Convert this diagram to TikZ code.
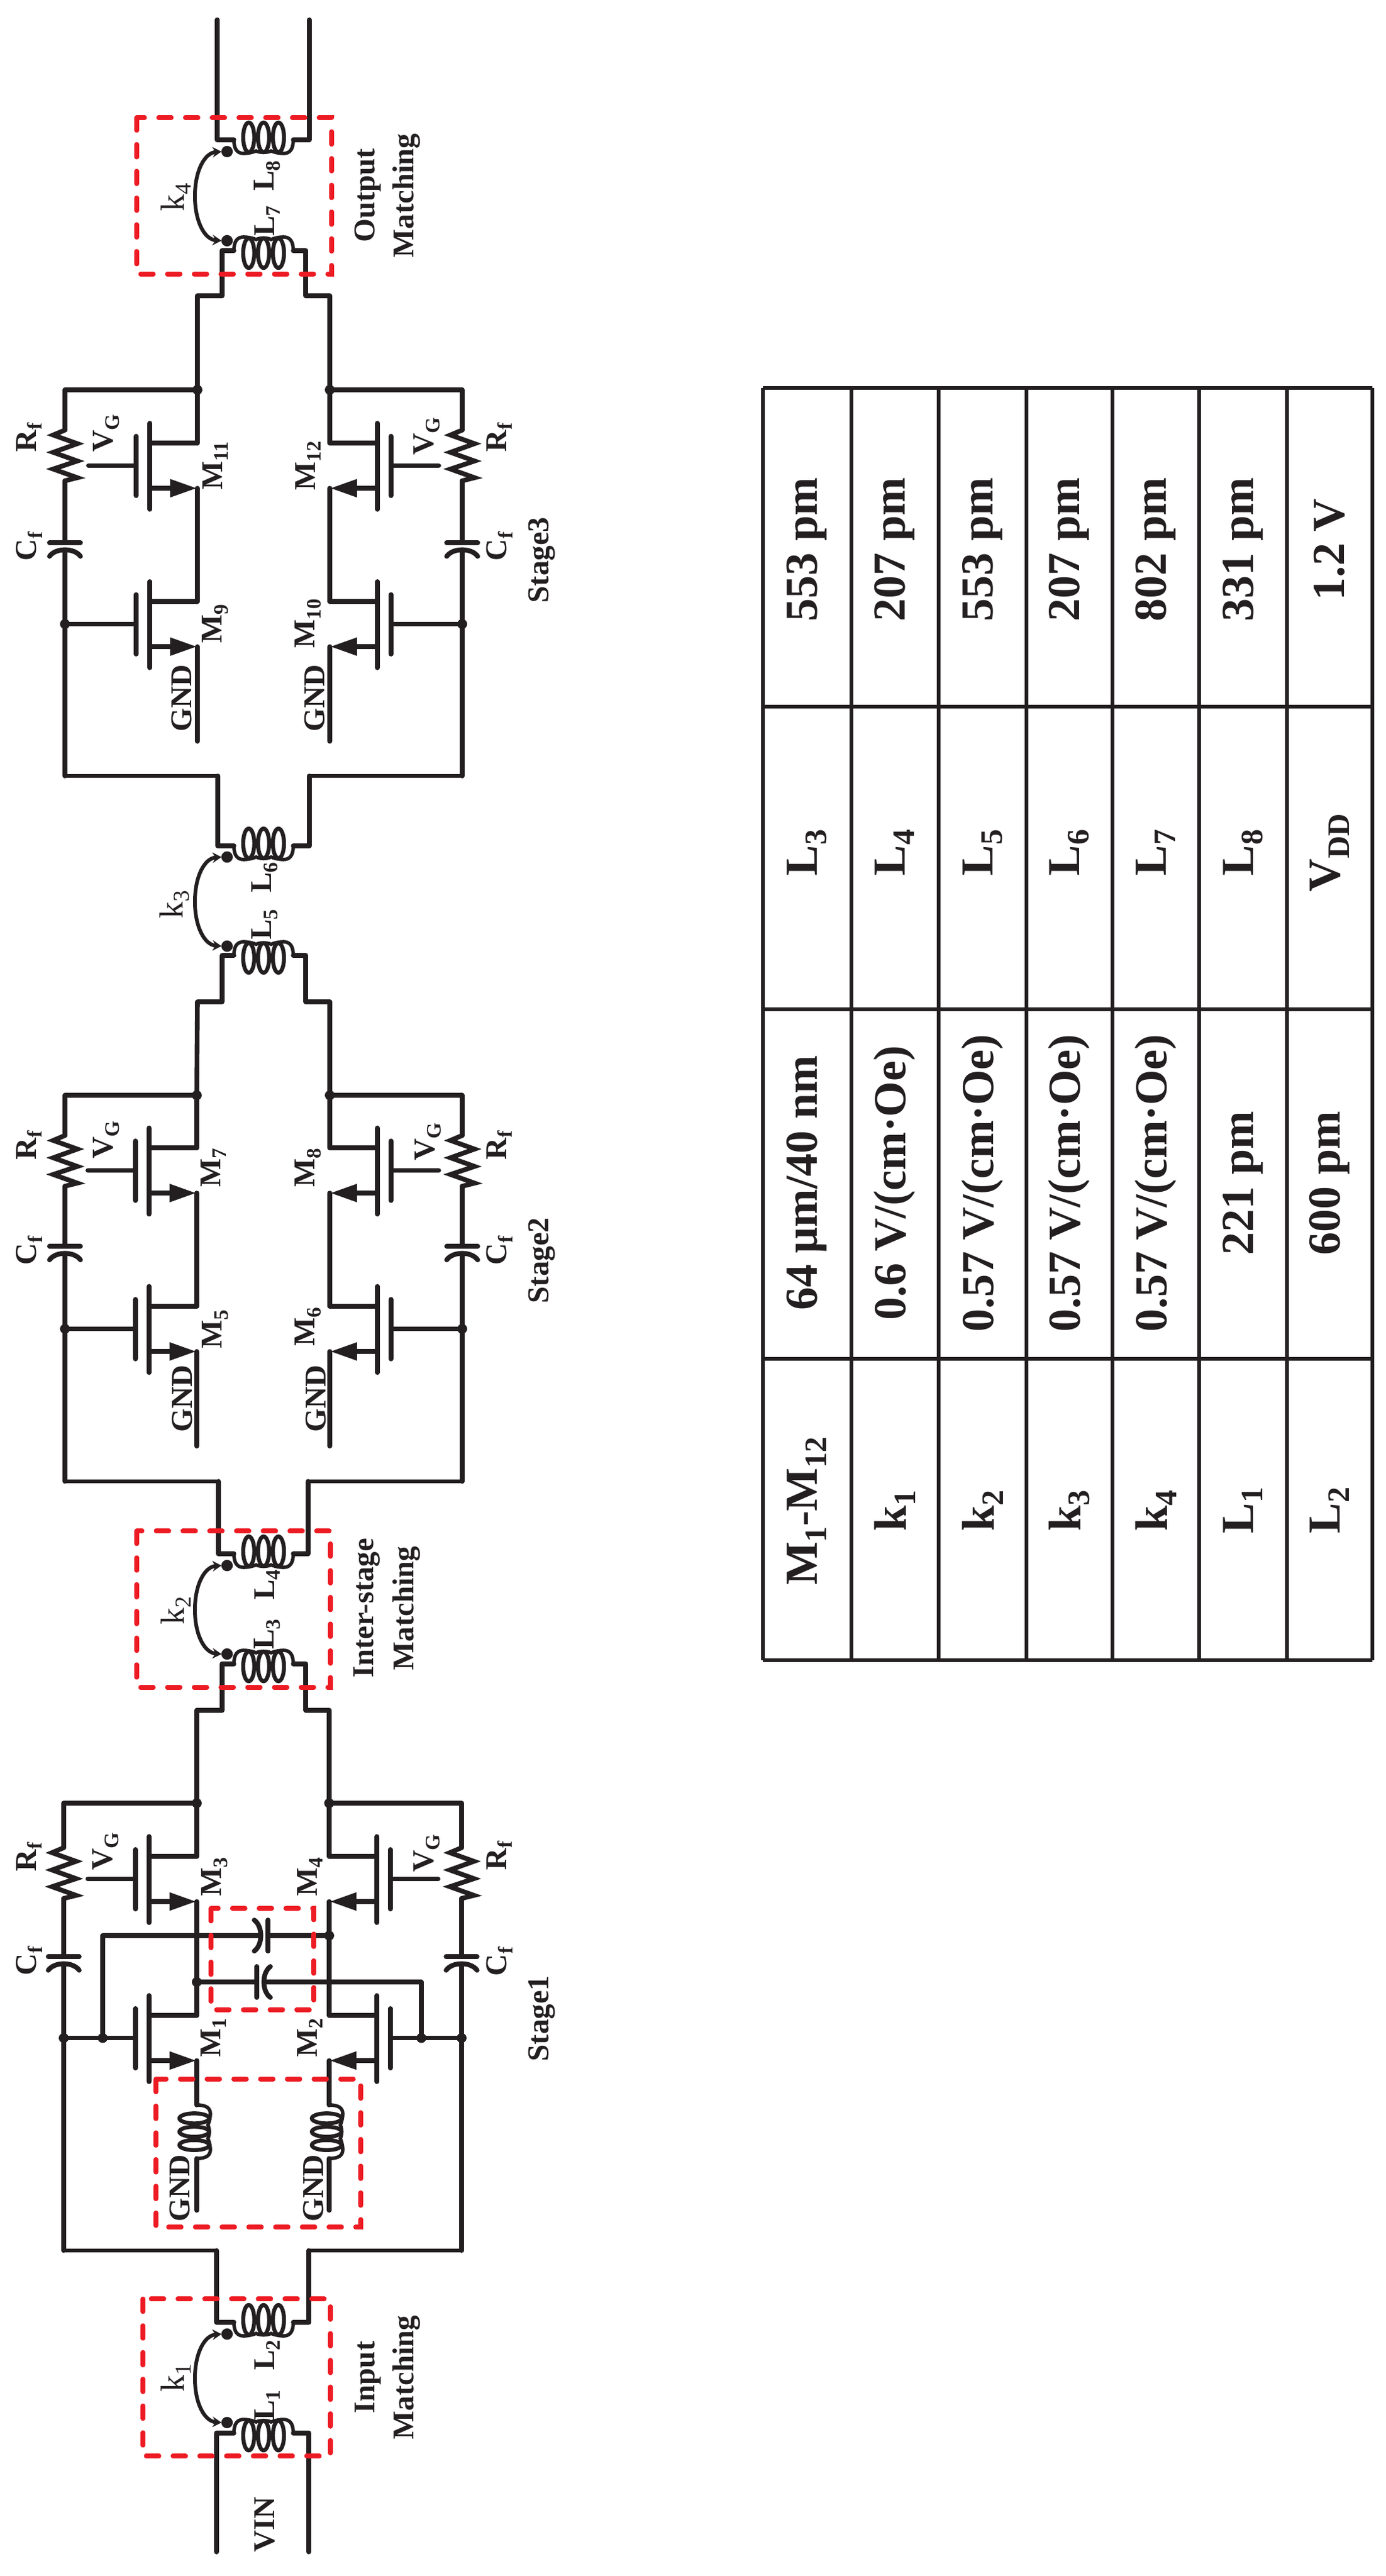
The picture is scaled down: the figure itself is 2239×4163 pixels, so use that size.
\documentclass[tikz,border=0pt]{standalone}
\usepackage{fontspec}
\setmainfont{Liberation Serif}
\usetikzlibrary{arrows.meta}
\definecolor{ink}{HTML}{231F20}
\definecolor{redbox}{HTML}{ED1C24}
\newcommand\sbs[1]{\raisebox{-0.2em}{\scalebox{0.68}{#1}}}
\tikzset{
  rail/.style={line width=1.9pt,color=ink,line join=round,line cap=round},
  thinrail/.style={line width=1.6pt,color=ink,line join=miter,line cap=round},
  plate/.style={line width=1.95pt,color=ink,line cap=round},
  coilw/.style={line width=1.4pt,color=ink},
  couplew/.style={line width=1.5pt,color=ink,{Stealth[length=3.6pt,width=4.2pt]}-{Stealth[length=3.6pt,width=4.2pt]}},
  junct/.style={circle,fill=ink,draw=none,inner sep=0pt,minimum size=4pt},
  pdot/.style={circle,fill=ink,draw=none,inner sep=0pt,minimum size=4.6pt},
  redrect/.style={draw=redbox,line width=1.8pt,line cap=round,dash pattern=on 5.2pt off 5.6pt},
  lab/.style={rotate=90,inner sep=0pt,text=ink,font=\fontsize{12.2}{14}\selectfont\bfseries},
  labk/.style={rotate=90,inner sep=0pt,text=ink,font=\fontsize{13.5}{15}\selectfont},
  tab/.style={rotate=90,inner sep=0pt,text=ink,font=\fontsize{18.5}{22}\selectfont\bfseries},
  tabline/.style={line width=1.5pt,color=ink}
}
% transistor: #1 name, #2 rail x, #3 drain y, #4 x vector
\newcommand\Mos[4]{%
  \begin{scope}[shift={(#2,#3)},x={#4}]
    \coordinate (#1d) at (0,0);
    \coordinate (#1s) at (0,73);
    \coordinate (#1g) at (-99,36.5);
    \coordinate (#1c) at (-77,0);
    \coordinate (#1e) at (-77,73);
    \draw[rail] (#1d) -- (#1c);
    \draw[rail] (#1e) -- (-40,73);
    \draw[plate] (-77,-32) -- (-77,107);
    \draw[plate] (-99,-11) -- (-99,85);
    \fill[ink] (-44,58) -- (-2,73) -- (-44,88) -- cycle;
  \end{scope}}
% zigzag resistor on a vertical rail
\newcommand\Zig[3]{%
  \begin{scope}[shift={(#2,#3)}]
    \coordinate (#1a) at (0,-41);
    \coordinate (#1b) at (0,41);
    \draw[rail,line join=miter] (#1a) -- (-19,-33) -- (20,-19) -- (-19,-5) -- (20,9) -- (-19,22) -- (20,36) -- (#1b);
  \end{scope}}
% capacitor: flat plate at v=0, curved plate on the +v side
\newcommand\CapAt[5]{%
  \begin{scope}[shift={(#2,#3)},x={#4},y={#5}]
    \coordinate (#1a) at (0,0);
    \coordinate (#1b) at (0,11.5);
    \draw[plate] (-25,0) -- (25,0);
    \draw[plate] (-25,22) .. controls (-15,8) and (15,8) .. (25,22);
  \end{scope}}
% inductor, axis along x vector, bump at v=-22
\newcommand\Coil[5]{%
  \begin{scope}[shift={(#2,#3)},x={#4},y={#5}]
    \coordinate (#1a) at (-48,0);
    \coordinate (#1b) at (48,0);
    \draw[coilw] (#1a) .. controls (-48,-16) and (-42,-22) .. (-32,-22)
       .. controls (-27,-22) and (-20,-21) .. (-12,-18)
       .. controls (-6,-21) and (6,-21) .. (12,-18)
       .. controls (20,-21) and (27,-22) .. (32,-22)
       .. controls (42,-22) and (48,-16) .. (#1b);
    \foreach \u in {-24,0,24}
      \draw[line width=1.6pt,color=ink] (\u,4) ellipse [x radius=9,y radius=24];
  \end{scope}}
\newcommand\Couple[3]{%
  \pgfmathsetmacro\ymid{(#2+#3)/2}%
  \pgfmathsetmacro\ya{#2+2}\pgfmathsetmacro\yb{\ymid-40}%
  \pgfmathsetmacro\yc{\ymid+40}\pgfmathsetmacro\yd{#3-2}%
  \node[pdot] (#1u) at (367,#2) {};
  \node[pdot] (#1v) at (367,#3) {};
  \coordinate (#1m) at (315,\ymid);
  \draw[couplew] (358,#2) .. controls (330,\ya) and (315,\yb) .. (#1m) .. controls (315,\yc) and (330,\yd) .. (358,#3);}
% one half of an amplifier stage
% #1 name #2 rail #3 outer #4 row y #5 d1 #6 d2 #7 R centre #8 C y #9 bottom
\newcommand\Side[9]{%
  \pgfmathsetmacro\sgn{(#3<#2)?0.25:-0.25}%
  \pgfmathsetmacro\gy{#6+36.5}%
  \Mos{#1a}{#2}{#5}{(\sgn pt,0)}
  \Mos{#1b}{#2}{#6}{(\sgn pt,0)}
  \coordinate (#1t) at (#2,#4);
  \coordinate (#1r) at (#3,#4);
  \coordinate (#1k) at (#3,\gy);
  \coordinate (#1o) at (#3,#9);
  \Zig{#1z}{#3}{#7}
  \CapAt{#1c}{#3}{#8}{(0.25pt,0)}{(0,-0.25pt)}
  \begin{scope}[shift={(#2,#5)},x={(\sgn pt,0)}]
    \coordinate (#1v) at (-176,36.5);
  \end{scope}
  \draw[rail] (#1t) -- (#1ad);
  \draw[rail] (#1as) -- (#1bd);
  \draw[rail] (#1t) -- (#1r) -- (#1za);
  \draw[rail] (#1zb) -- (#1ca);
  \draw[rail] (#1cb) -- (#1k);
  \draw[rail] (#1k) -- (#1o);
  \draw[rail] (#1ag) -- (#1v);
  \draw[rail] (#1k) -- (#1bg);
  \node[junct] (#1dt) at (#1t) {};
  \node[junct] (#1dk) at (#1k) {};}
\newcommand\Lab[5][lab]{\node[#1] (#2) at (#3,#4) {#5};}
\begin{document}
\begin{tikzpicture}[x=0.25pt,y=-0.25pt]
\useasboundingbox (0,0) rectangle (2239,4163);
\fill[white] (0,0) rectangle (2239,4163);

% ---------- stages
\Side{tl}{319}{105}{630}{716}{972}{736}{877}{1254}
\Side{tr}{533}{747}{630}{716}{972}{736}{877}{1254}
\Side{ml}{318}{105}{1770}{1855}{2111}{1876}{2014}{2394}
\Side{mr}{533}{747}{1770}{1855}{2111}{1876}{2014}{2394}
\Side{bl}{318}{103}{2914}{3000}{3257}{3027}{3162}{3637}
\Side{br}{532}{746}{2914}{3000}{3257}{3027}{3162}{3637}

% ---------- ground leads
\coordinate (g3a) at (319,1198); \coordinate (g3b) at (533,1198);
\coordinate (g2a) at (318,2337); \coordinate (g2b) at (533,2337);
\draw[rail] (tlbs) -- (g3a);
\draw[rail] (trbs) -- (g3b);
\draw[rail] (mlbs) -- (g2a);
\draw[rail] (mrbs) -- (g2b);

% ---------- source inductors of stage 1
\Coil{sa}{318}{3445}{(0,-0.225pt)}{(-0.25pt,0)}
\Coil{sb}{532}{3445}{(0,-0.225pt)}{(-0.25pt,0)}
\coordinate (g1a) at (318,3572); \coordinate (g1b) at (532,3572);
\draw[rail] (blbs) -- (saa);
\draw[rail] (sab) -- (g1a);
\draw[rail] (brbs) -- (sba);
\draw[rail] (sbb) -- (g1b);

% ---------- cross coupling of stage 1
\node[junct] (xa) at (166,3293.5) {};
\node[junct] (xb) at (681,3293.5) {};
\node[junct] (xc) at (532,3128) {};
\node[junct] (xd) at (318,3203) {};
\CapAt{cxa}{433}{3128}{(0,0.25pt)}{(-0.25pt,0)}
\CapAt{cxb}{415}{3203}{(0,0.25pt)}{(0.25pt,0)}
\coordinate (xe) at (166,3128);
\coordinate (xf) at (681,3203);
\draw[rail] (xa.center) -- (xe) -- (cxab);
\draw[rail] (cxaa) -- (xc.center);
\draw[rail] (xd.center) -- (cxba);
\draw[rail] (cxbb) -- (xf) -- (xb.center);

% ---------- output matching
\Coil{lh}{426}{226}{(0.25pt,0)}{(0,0.25pt)}
\Coil{lg}{426}{405}{(0.25pt,0)}{(0,-0.25pt)}
\coordinate (oa) at (351,32); \coordinate (ob) at (500,32);
\coordinate (oc) at (351,226); \coordinate (od) at (500,226);
\draw[rail] (oa) -- (oc) -- (lha);
\draw[rail] (lhb) -- (od) -- (ob);
\coordinate (oe) at (359,405); \coordinate (of) at (359,478); \coordinate (og) at (319,478);
\coordinate (oh) at (494,405); \coordinate (oi) at (494,478); \coordinate (oj) at (533,478);
\draw[rail] (lga) -- (oe) -- (of) -- (og) -- (tlt);
\draw[rail] (lgb) -- (oh) -- (oi) -- (oj) -- (trt);
\Couple{kd}{245}{389}

% ---------- L5 L6
\Coil{lf}{426}{1367}{(0.25pt,0)}{(0,0.25pt)}
\Coil{le}{426}{1544}{(0.25pt,0)}{(0,-0.25pt)}
\coordinate (pa) at (352,1254); \coordinate (pb) at (352,1367);
\coordinate (pc) at (500,1254); \coordinate (pd) at (500,1367);
\draw[thinrail] (tlo) -- (pa);
\draw[rail] (pa) -- (pb) -- (lfa);
\draw[thinrail] (tro) -- (pc);
\draw[rail] (pc) -- (pd) -- (lfb);
\coordinate (pe) at (359,1544); \coordinate (pf) at (359,1619); \coordinate (pg) at (319,1619);
\coordinate (ph) at (494,1544); \coordinate (pi) at (494,1619); \coordinate (pj) at (533,1619);
\draw[rail] (lea) -- (pe) -- (pf) -- (pg) -- (mlt);
\draw[rail] (leb) -- (ph) -- (pi) -- (pj) -- (mrt);
\Couple{kc}{1385}{1529}

% ---------- inter-stage matching
\Coil{ld}{426}{2511}{(0.25pt,0)}{(0,0.25pt)}
\Coil{lc}{426}{2689}{(0.25pt,0)}{(0,-0.25pt)}
\coordinate (qa) at (353,2394); \coordinate (qb) at (353,2511);
\coordinate (qc) at (498,2394); \coordinate (qd) at (498,2511);
\draw[thinrail] (mlo) -- (qa);
\draw[rail] (qa) -- (qb) -- (lda);
\draw[thinrail] (mro) -- (qc);
\draw[rail] (qc) -- (qd) -- (ldb);
\coordinate (qe) at (359,2689); \coordinate (qf) at (359,2764); \coordinate (qg) at (318,2764);
\coordinate (qh) at (494,2689); \coordinate (qi) at (494,2764); \coordinate (qj) at (532,2764);
\draw[rail] (lca) -- (qe) -- (qf) -- (qg) -- (blt);
\draw[rail] (lcb) -- (qh) -- (qi) -- (qj) -- (brt);
\Couple{kb}{2530}{2673}

% ---------- input matching
\Coil{lb}{426}{3753}{(0.25pt,0)}{(0,0.25pt)}
\Coil{la}{426}{3932}{(0.25pt,0)}{(0,-0.25pt)}
\coordinate (ra) at (350,3637); \coordinate (rb) at (350,3753);
\coordinate (rc) at (499,3637); \coordinate (rd) at (499,3753);
\draw[thinrail] (blo) -- (ra);
\draw[rail] (ra) -- (rb) -- (lba);
\draw[thinrail] (bro) -- (rc);
\draw[rail] (rc) -- (rd) -- (lbb);
\coordinate (re) at (350,3932); \coordinate (rf) at (350,4124);
\coordinate (rg) at (499,3932); \coordinate (rh) at (499,4124);
\draw[rail] (laa) -- (re) -- (rf);
\draw[rail] (lab) -- (rg) -- (rh);
\Couple{ka}{3772}{3915}

% ---------- red boxes
\draw[redrect] (231,3715) rectangle (534,3969);
\draw[redrect] (252,3360) rectangle (583,3599);
\draw[redrect] (341,3084) rectangle (507,3248);
\draw[redrect] (221,2474) rectangle (534,2727);
\draw[redrect] (221,190) rectangle (536,443);

% ---------- labels: input matching
\Lab{tvin}{428}{4080}{VIN}
\Lab[labk]{tka}{284}{3843}{k\sbs{1}}
\Lab{tlb}{432}{3806}{L\sbs{2}}
\Lab{tla}{432}{3887}{L\sbs{1}}
\Lab{tin}{595}{3842}{Input}
\Lab{tima}{657}{3842}{Matching}
% stage 1
\Lab{tm3}{347}{3033}{M\sbs{3}}
\Lab{tm1}{345}{3293}{M\sbs{1}}
\Lab{tm4}{501}{3033}{M\sbs{4}}
\Lab{tm2}{501}{3293}{M\sbs{2}}
\Lab{tvg1a}{171}{2992}{V\sbs{G}}
\Lab{tvg1b}{690}{2995}{V\sbs{G}}
\Lab{trf1a}{47}{3001}{R\sbs{f}}
\Lab{trf1b}{807}{2999}{R\sbs{f}}
\Lab{tcf1a}{47}{3169}{C\sbs{f}}
\Lab{tcf1b}{807}{3170}{C\sbs{f}}
\Lab{ts1}{876}{3262}{Stage1}
\Lab{tg1a}{291}{3536}{GND}
\Lab{tg1b}{507}{3536}{GND}
% inter-stage
\Lab[labk]{tkb}{284}{2603}{k\sbs{2}}
\Lab{tld}{432}{2561}{L\sbs{4}}
\Lab{tlc}{432}{2641}{L\sbs{3}}
\Lab{tist}{593}{2599}{Inter-stage}
\Lab{tistm}{657}{2599}{Matching}
% stage 2
\Lab{tm7}{345}{1887}{M\sbs{7}}
\Lab{tm5}{348}{2148}{M\sbs{5}}
\Lab{tm8}{498}{1887}{M\sbs{8}}
\Lab{tm6}{498}{2144}{M\sbs{6}}
\Lab{tvg2a}{172}{1842}{V\sbs{G}}
\Lab{tvg2b}{692}{1845}{V\sbs{G}}
\Lab{trf2a}{47}{1851}{R\sbs{f}}
\Lab{trf2b}{807}{1851}{R\sbs{f}}
\Lab{tcf2a}{47}{2021}{C\sbs{f}}
\Lab{tcf2b}{807}{2021}{C\sbs{f}}
\Lab{ts2}{876}{2037}{Stage2}
\Lab{tg2a}{295}{2260}{GND}
\Lab{tg2b}{511}{2260}{GND}
% L5 L6
\Lab[labk]{tkc}{282}{1462}{k\sbs{3}}
\Lab{tlf}{428}{1418}{L\sbs{6}}
\Lab{tle}{428}{1494}{L\sbs{5}}
% stage 3
\Lab{tm11}{348}{753}{M\sbs{11}}
\Lab{tm9}{348}{1008}{M\sbs{9}}
\Lab{tm12}{498}{753}{M\sbs{12}}
\Lab{tm10}{498}{1008}{M\sbs{10}}
\Lab{tvg3a}{172}{700}{V\sbs{G}}
\Lab{tvg3b}{690}{705}{V\sbs{G}}
\Lab{trf3a}{47}{707}{R\sbs{f}}
\Lab{trf3b}{807}{707}{R\sbs{f}}
\Lab{tcf3a}{47}{883}{C\sbs{f}}
\Lab{tcf3b}{807}{883}{C\sbs{f}}
\Lab{ts3}{876}{905}{Stage3}
\Lab{tg3a}{294}{1128}{GND}
\Lab{tg3b}{509}{1128}{GND}
% output matching
\Lab[labk]{tkd}{284}{319}{k\sbs{4}}
\Lab{tlh}{432}{284}{L\sbs{8}}
\Lab{tlg}{432}{357}{L\sbs{7}}
\Lab{tout}{595}{316}{Output}
\Lab{toutm}{657}{316}{Matching}

% ---------- table
\foreach \x in {1233,1376,1517,1659,1798,1938,2080,2218}
  \draw[tabline] (\x,627) -- (\x,2683);
\foreach \y in {627,1142,1631,2196,2683}
  \draw[tabline] (1233,\y) -- (2218,\y);
\Lab[tab]{ca}{1304}{2442}{M\sbs{1}-M\sbs{12}}
\Lab[tab]{cb}{1304}{1912}{64 μm/40 nm}
\Lab[tab]{cc}{1304}{1378}{L\sbs{3}}
\Lab[tab]{cd}{1304}{888}{553 pm}
\Lab[tab]{da}{1446}{2441}{k\sbs{1}}
\Lab[tab]{db}{1446}{1912}{0.6 V/(cm·Oe)}
\Lab[tab]{dc}{1446}{1378}{L\sbs{4}}
\Lab[tab]{dd}{1446}{888}{207 pm}
\Lab[tab]{ea}{1588}{2441}{k\sbs{2}}
\Lab[tab]{eb}{1588}{1912}{0.57 V/(cm·Oe)}
\Lab[tab]{ec}{1588}{1378}{L\sbs{5}}
\Lab[tab]{ed}{1588}{888}{553 pm}
\Lab[tab]{fa}{1728}{2441}{k\sbs{3}}
\Lab[tab]{fb}{1728}{1912}{0.57 V/(cm·Oe)}
\Lab[tab]{fc}{1728}{1378}{L\sbs{6}}
\Lab[tab]{fd}{1728}{888}{207 pm}
\Lab[tab]{ga}{1868}{2441}{k\sbs{4}}
\Lab[tab]{gb}{1868}{1912}{0.57 V/(cm·Oe)}
\Lab[tab]{gc}{1868}{1378}{L\sbs{7}}
\Lab[tab]{gd}{1868}{888}{802 pm}
\Lab[tab]{ha}{2009}{2441}{L\sbs{1}}
\Lab[tab]{hb}{2009}{1912}{221 pm}
\Lab[tab]{hc}{2009}{1378}{L\sbs{8}}
\Lab[tab]{hd}{2009}{888}{331 pm}
\Lab[tab]{ia}{2149}{2441}{L\sbs{2}}
\Lab[tab]{ib}{2149}{1912}{600 pm}
\Lab[tab]{ic}{2149}{1378}{V\sbs{DD}}
\Lab[tab]{id}{2149}{888}{1.2 V}
\end{tikzpicture}
\end{document}
